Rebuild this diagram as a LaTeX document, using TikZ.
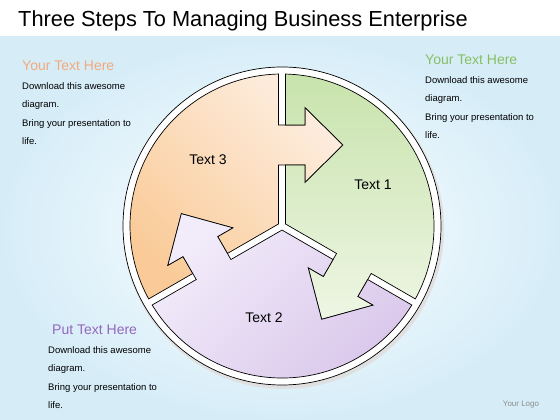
\documentclass[tikz,border=0pt]{standalone}
\usepackage{fontspec}
\setmainfont{Liberation Sans}
\usepackage{xcolor}
\usetikzlibrary{positioning,shadings}

\definecolor{orangedark}{HTML}{FACB98}
\definecolor{orangelight}{HTML}{FDEDDF}
\definecolor{greendark}{HTML}{C8E3AC}
\definecolor{greenlight}{HTML}{EEF6E4}
\definecolor{purpledark}{HTML}{D9C6EA}
\definecolor{purplelight}{HTML}{F2ECFA}
\definecolor{bgblue}{HTML}{D6EDF8}
\definecolor{headorange}{HTML}{F2A97C}
\definecolor{headgreen}{HTML}{86BF62}
\definecolor{headpurple}{HTML}{9467BE}

% one region of the wheel with its own arrow and the notch of the next one
\def\stepregion{(-3.5,2.02) -- (-3.5,61) -- (23,61) -- (23,43.5) -- (61,81)
  -- (23,118.5) -- (23,101) -- (-3.5,101) -- (91.32:152)
  arc[start angle=91.32, end angle=208.68, radius=152]
  -- (208.02:101.06) -- (197.17:103.59) -- (199.02:120.71) -- (173.02:101.40)
  -- (182.14:49.21) -- (189.34:65.19) -- (206.72:61.10) -- cycle}
\newcommand{\headfont}{\fontsize{14}{16}\selectfont}

\begin{document}
\begin{tikzpicture}[
    x=1pt, y=1pt,
    region/.style={draw=black, line width=0.7pt, line join=miter},
    ring/.style={draw=black, line width=0.7pt, fill=white},
    title/.style={font=\fontsize{21.8}{24}\selectfont, anchor=base west, inner sep=0},
    steplabel/.style={font=\fontsize{14}{16}\selectfont},
    note/.style={font=\fontsize{9.5}{18.5}\selectfont, align=left, anchor=base west, inner sep=0},
    logo/.style={font=\fontsize{8}{10}\selectfont, text=black!45},
]
    \useasboundingbox (0,0) rectangle (560,420);

    % Background
    \fill[white] (0,0) rectangle (560,420);
    \shade[inner color=white, outer color=bgblue] (0,0) rectangle (560,383);

    % Title
    \node[title] (title) at (18,393) {Three Steps To Managing Business Enterprise};

    % Wheel
    \begin{scope}[shift={(282,194)}]
        \fill[black!12] (1.5,-2.5) circle (160.5);
        \draw[ring] (0,0) circle (159);
        \shadedraw[region, top color=orangelight, bottom color=orangedark, shading angle=-45] \stepregion;
        \begin{scope}[rotate=-120]
            \shadedraw[region, top color=greendark, bottom color=greenlight, shading angle=0] \stepregion;
        \end{scope}
        \begin{scope}[rotate=120]
            \shadedraw[region, top color=purplelight, bottom color=purpledark, shading angle=45] \stepregion;
        \end{scope}
    \end{scope}

    % Step labels
    \node[steplabel] (text3) at (208,260) {Text 3};
    \node[steplabel] (text1) at (373,235) {Text 1};
    \node[steplabel] (text2) at (264,102) {Text 2};

    % Side notes (anchored at the baseline of their last line)
    \node[note] (noteleft) at (22,275)
        {{\color{headorange}\headfont Your Text Here}\\
         Download this awesome\\ diagram.\\ Bring your presentation to\\ life.};
    \node[note] (noteright) at (425,281)
        {{\color{headgreen}\headfont Your Text Here}\\
         Download this awesome\\ diagram.\\ Bring your presentation to\\ life.};
    \node[note] (notebottom) at (48,11)
        {{\color{headpurple}\headfont\hspace{4pt}Put Text Here}\\
         Download this awesome\\ diagram.\\ Bring your presentation to\\ life.};

    % Logo
    \node[logo] (logo) at (521,15) {Your Logo};
\end{tikzpicture}
\end{document}
